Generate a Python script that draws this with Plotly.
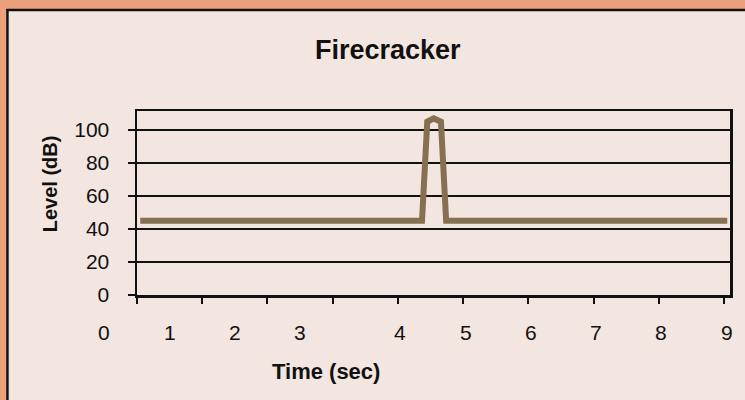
import plotly.graph_objects as go

# ---- data ----
time_sec = [0.05, 4.37, 4.45, 4.55, 4.66, 4.74, 9.05]
level_db = [45, 45, 105, 107, 105, 45, 45]

x_tick_labels = ["0", "1", "2", "3", "4", "5", "6", "7", "8", "9"]
x_label_pos = [-0.5, 0.5, 1.5, 2.5, 4.03, 5.04, 6.04, 7.04, 8.04, 9.04]
y_ticks = [0, 20, 40, 60, 80, 100]

title_text = "Firecracker"
x_title = "Time (sec)"
y_title = "Level (dB)"

FONT = "Liberation Sans, Arial, sans-serif"
ORANGE = "#EBA07B"
PANEL = "#F3E5DF"
LINE = "#857052"

X_RANGE = [0, 9.092]

fig = go.Figure()
fig.add_trace(go.Scatter(
    x=time_sec, y=level_db, mode="lines",
    line=dict(color=LINE, width=6), hoverinfo="skip", showlegend=False,
))

L, R, T, B = 137, 13, 111, 105
W, H = 745, 400
pw, ph = W - L - R, H - T - B

def px_to_paper_x(px):
    return (px - L) / pw

def px_to_paper_y(py):
    return (H - B - py) / ph

def data_to_paper_x(v):
    return (v - X_RANGE[0]) / (X_RANGE[1] - X_RANGE[0])

annotations = []
for lab, pos in zip(x_tick_labels, x_label_pos):
    annotations.append(dict(
        x=data_to_paper_x(pos), y=px_to_paper_y(332), xref="paper", yref="paper",
        text=lab, showarrow=False, xanchor="center", yanchor="middle",
        font=dict(family=FONT, size=21, color="#111111"),
    ))
annotations.append(dict(
    x=px_to_paper_x(327), y=px_to_paper_y(371), xref="paper", yref="paper",
    text="<b>" + x_title + "</b>", showarrow=False, xanchor="center", yanchor="middle",
    font=dict(family=FONT, size=22, color="#111111"),
))
annotations.append(dict(
    x=px_to_paper_x(50), y=px_to_paper_y(184), xref="paper", yref="paper",
    text="<b>" + y_title + "</b>", showarrow=False, textangle=-90,
    xanchor="center", yanchor="middle",
    font=dict(family=FONT, size=20, color="#111111"),
))
annotations.append(dict(
    x=px_to_paper_x(389), y=px_to_paper_y(50), xref="paper", yref="paper",
    text="<b>" + title_text + "</b>", showarrow=False, xanchor="center", yanchor="middle",
    font=dict(family=FONT, size=27, color="#111111"),
))

shapes = [
    # top orange strip
    dict(type="rect", xref="paper", yref="paper", layer="below",
         x0=px_to_paper_x(-5), x1=px_to_paper_x(755),
         y0=px_to_paper_y(9), y1=px_to_paper_y(-5),
         fillcolor=ORANGE, line=dict(width=0)),
    # left orange strip
    dict(type="rect", xref="paper", yref="paper", layer="below",
         x0=px_to_paper_x(-5), x1=px_to_paper_x(6),
         y0=px_to_paper_y(405), y1=px_to_paper_y(-5),
         fillcolor=ORANGE, line=dict(width=0)),
    # panel border lines
    dict(type="line", xref="paper", yref="paper", layer="below",
         x0=px_to_paper_x(6), x1=px_to_paper_x(755),
         y0=px_to_paper_y(10), y1=px_to_paper_y(10),
         line=dict(color="#111111", width=2.5)),
    dict(type="line", xref="paper", yref="paper", layer="below",
         x0=px_to_paper_x(7), x1=px_to_paper_x(7),
         y0=px_to_paper_y(9), y1=px_to_paper_y(405),
         line=dict(color="#111111", width=2.5)),
]

fig.update_layout(
    width=W, height=H,
    margin=dict(l=L, r=R, t=T, b=B),
    paper_bgcolor=PANEL,
    plot_bgcolor="rgba(0,0,0,0)",
    annotations=annotations,
    shapes=shapes,
    showlegend=False,
)
fig.update_xaxes(
    range=X_RANGE, tickmode="array", tickvals=list(range(10)),
    showticklabels=False, ticks="outside", ticklen=6, tickwidth=2, tickcolor="#111111",
    showgrid=False, zeroline=False,
    showline=True, linecolor="#111111", linewidth=2.5, mirror=True,
)
fig.update_yaxes(
    range=[0, 111.5], tickmode="array", tickvals=y_ticks,
    ticks="outside", ticklen=7, tickwidth=2, tickcolor="#111111",
    tickfont=dict(family=FONT, size=21, color="#111111"),
    ticklabelstandoff=14,
    showgrid=True, gridcolor="#111111", gridwidth=1.6, zeroline=False,
    showline=True, linecolor="#111111", linewidth=2.5, mirror=True,
)

fig.write_html(
    "out.html",
    config={"displayModeBar": False, "staticPlot": True},
    post_script="document.body.style.margin='0';document.body.style.overflow='hidden';",
)
